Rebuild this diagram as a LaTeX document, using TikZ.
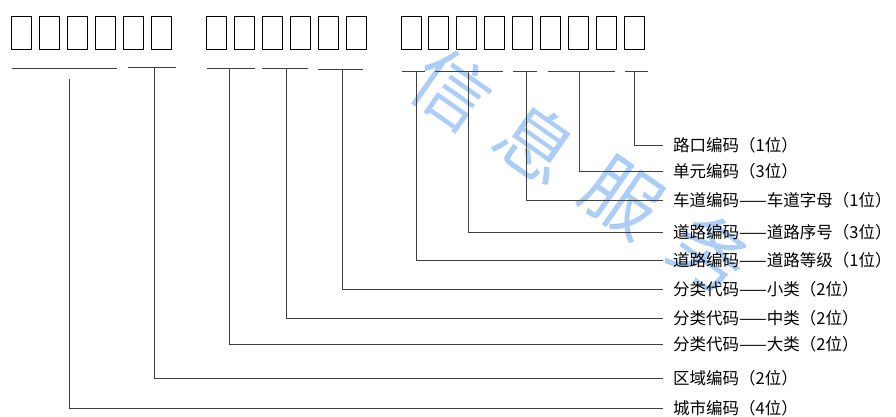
\documentclass[tikz,border=0pt]{standalone}
\usepackage{fontspec}
\newfontfamily\cjk{Noto Sans CJK SC}
\definecolor{wmark}{RGB}{172,206,246}

\begin{document}
\begin{tikzpicture}[
  x=1pt, y=-1pt,
  font=\cjk\fontsize{16.5}{19}\selectfont,
  digit/.style={draw, line width=.9pt, minimum width=20pt,
                minimum height=33pt, inner sep=0pt},
  bracket/.style={line width=.9pt, black!75},
  part/.style={anchor=west, inner xsep=10pt, inner ysep=0pt},
  wm/.style={text=wmark, font=\cjk\fontsize{76}{76}\selectfont, rotate=-35},
]
\useasboundingbox (0,0) rectangle (896,417);

% faint watermark behind everything
\foreach \ch/\wx/\wy [count=\w] in {信/452/90, 息/537/143, 服/622/198, 务/710/253}
  \node[wm] (wm\w) at (\wx,\wy) {\ch};

% digit boxes: 6 + 6 + 9
\foreach \g/\xs/\n in {a/21.5/6, b/216.5/6, c/411/9}
  \foreach \k in {1,...,\n}
    \node[digit] (\g\k) at ({\xs+(\k-1)*27.9},32.5) {};

% brackets under the digits and their legs to the texts
\foreach \xa/\xb/\xv/\yt/\yv/\ly/\nm/\txt in {
    12/117/69/68/79/408/city/城市编码（4位）,
    128/176/154/67/67/378/area/区域编码（2位）,
    207/255/229/68/68/344/major/分类代码——大类（2位）,
    262/308/286/68/68/318/middle/分类代码——中类（2位）,
    318/363/342/69/69/289/minor/分类代码——小类（2位）,
    402/425/416/71/71/260/grade/道路编码——道路等级（1位）,
    435/503/468/71/71/232/road/道路编码——道路序号（3位）,
    513/537/526/71/71/200/lane/车道编码——车道字母（1位）,
    548/615/579/71/71/171/unit/单元编码（3位）,
    625/648/634/71/71/145/cross/路口编码（1位）}{
  \node[part] (\nm) at (663,\ly) {\txt};
  \coordinate (\nm-top) at (\xv,\yv);
  \draw[bracket] (\xa,\yt) -- (\xb,\yt);
  \draw[bracket] (\nm-top) |- (\nm.west);
}
\end{tikzpicture}
\end{document}
